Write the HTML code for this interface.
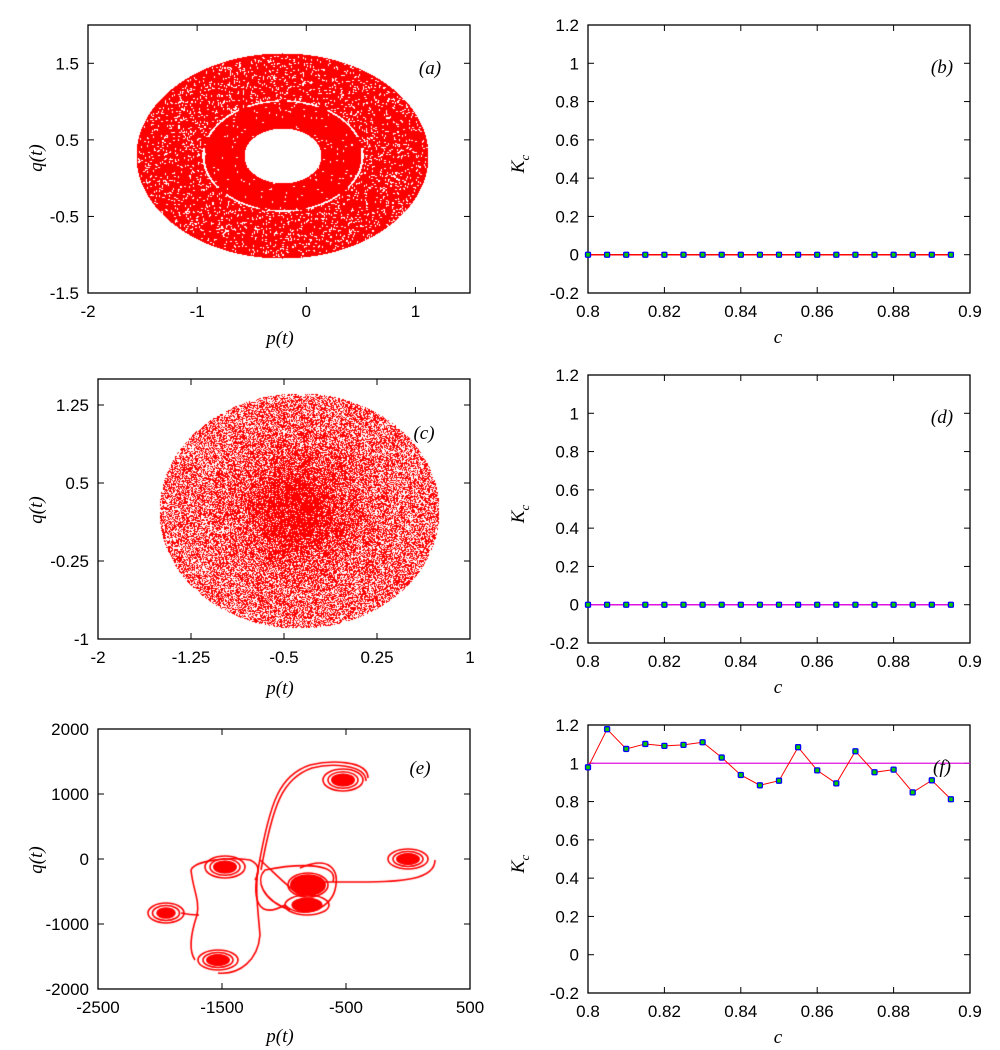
<!DOCTYPE html>
<html><head><meta charset="utf-8">
<style>
html,body{margin:0;padding:0;background:#fff;}
#wrap{position:relative;width:1000px;height:1050px;overflow:hidden;}
canvas,svg{position:absolute;left:0;top:0;}
text{font-family:"Liberation Sans",sans-serif;font-size:17px;fill:#000;}
.it{font-family:"Liberation Serif",serif;font-style:italic;font-size:19px;}
</style></head>
<body>
<div id="wrap">
<canvas id="cv" width="1000" height="1050"></canvas>
<svg id="sv" width="1000" height="1050" xmlns="http://www.w3.org/2000/svg"></svg>
</div>
<script>
// ---- data for Kc panels ----
const cValues = [0.8,0.805,0.81,0.815,0.82,0.825,0.83,0.835,0.84,0.845,0.85,0.855,0.86,0.865,0.87,0.875,0.88,0.885,0.89,0.895];
const kcB = [0,0,0,0,0,0,0,0,0,0,0,0,0,0,0,0,0,0,0,0];
const kcD = [0,0,0,0,0,0,0,0,0,0,0,0,0,0,0,0,0,0,0,0];
const kcF = [0.979,1.178,1.075,1.101,1.091,1.096,1.11,1.03,0.939,0.885,0.909,1.084,0.963,0.895,1.063,0.953,0.967,0.848,0.911,0.812];
const kcTicks = [-0.2,0,0.2,0.4,0.6,0.8,1,1.2];
const kcTickLabels = ["-0.2","0","0.2","0.4","0.6","0.8","1","1.2"];
const cTicks = [0.8,0.82,0.84,0.86,0.88,0.9];
const cTickLabels = ["0.8","0.82","0.84","0.86","0.88","0.9"];
const aXTicks=[-2,-1,0,1], aYTicks=[-1.5,-0.5,0.5,1.5];
const cXTicks=[-2,-1.25,-0.5,0.25,1], cYTicks=[-1,-0.25,0.5,1.25];
const eXTicks=[-2500,-1500,-500,500], eYTicks=[-2000,-1000,0,1000,2000];

const NS="http://www.w3.org/2000/svg";
const sv=document.getElementById('sv');
function mk(tag,attrs,parent){const e=document.createElementNS(NS,tag);for(const k in attrs)e.setAttribute(k,attrs[k]);(parent||sv).appendChild(e);return e;}
function txt(x,y,s,anchor,cls,parent){const t=mk('text',{x:x,y:y,'text-anchor':anchor||'middle'},parent);if(cls)t.setAttribute('class',cls);t.textContent=s;return t;}

function axes(name,L,T,R,B,xmin,xmax,ymin,ymax,xt,xl,yt,yl){
  const g=mk('g',{});
  
  
  const sx=v=>L+(v-xmin)/(xmax-xmin)*(R-L);
  const sy=v=>B-(v-ymin)/(ymax-ymin)*(B-T);
  const fr=mk('rect',{x:L,y:T,width:R-L,height:B-T,fill:'none',stroke:'#000','stroke-width':1.3},g);
  
  
  xt.forEach((v,i)=>{const x=sx(v);
    mk('line',{x1:x,x2:x,y1:B,y2:B-6,stroke:'#000','stroke-width':1},g);
    mk('line',{x1:x,x2:x,y1:T,y2:T+6,stroke:'#000','stroke-width':1},g);
    const t=txt(x,B+24,xl[i],'middle',null,g);
    
    });
  yt.forEach((v,i)=>{const y=sy(v);
    mk('line',{x1:L,x2:L+6,y1:y,y2:y,stroke:'#000','stroke-width':1},g);
    mk('line',{x1:R,x2:R-6,y1:y,y2:y,stroke:'#000','stroke-width':1},g);
    const t=txt(L-9,y+6,yl[i],'end',null,g);
    
    });
  return {sx,sy,g};
}
function italicLabel(x,y,s,name,rot){
  const t=txt(x,y,s,'middle','it');
  if(rot)t.setAttribute('transform','rotate(-90 '+x+' '+y+')');
  
  
  return t;
}
function kLabel(x,y,name){
  const t=mk('text',{x:x,y:y,'text-anchor':'middle',class:'it',transform:'rotate(-90 '+x+' '+y+')'});
  t.innerHTML='K<tspan font-size="13" dy="5">c</tspan>';
  
  
}

// ---- Left panels ----
const A=axes('panel-a',88,25,470,293,-2,1.5,-1.5,2,aXTicks,aXTicks.map(String),aYTicks,aYTicks.map(String));
const C=axes('panel-c',98,379,470,639,-2,1,-1,1.5,cXTicks,cXTicks.map(String),cYTicks,cYTicks.map(String));
const E=axes('panel-e',98,729,470,989,-2500,500,-2000,2000,eXTicks,eXTicks.map(String),eYTicks,eYTicks.map(String));
italicLabel(280,344,'p(t)','x-axis-title-a');italicLabel(42,158,'q(t)','y-axis-title-a',true);
italicLabel(280,694,'p(t)','x-axis-title-c');italicLabel(42,510,'q(t)','y-axis-title-c',true);
italicLabel(280,1042,'p(t)','x-axis-title-e');italicLabel(42,860,'q(t)','y-axis-title-e',true);
italicLabel(430,74,'(a)','panel-label-a');
italicLabel(424,439,'(c)','panel-label-c');
italicLabel(420,774,'(e)','panel-label-e');

// ---- Right panels ----
function kcPanel(name,T,B,vals,lineColor,letter,refLine){
  const P=axes(name,588,T,970,B,0.8,0.9,-0.2,1.2,cTicks,cTickLabels,kcTicks,kcTickLabels);
  if(refLine){const l=mk('line',{x1:588,x2:970,y1:P.sy(1),y2:P.sy(1),stroke:'#e010e0','stroke-width':1.3});
    }
  const pts=cValues.map((c,i)=>P.sx(c)+','+P.sy(vals[i])).join(' ');
  const pl=mk('polyline',{points:pts,fill:'none',stroke:lineColor,'stroke-width':refLine?1:1.5});
  
  cValues.forEach((c,i)=>{const r=mk('rect',{x:P.sx(c)-2.5,y:P.sy(vals[i])-2.5,width:5,height:5,rx:1,fill:'#00cc00',stroke:'#0000ff','stroke-width':1.3});
    });
  italicLabel(778,(B+50),'c','x-axis-title-'+letter);
  kLabel(524,(T+B)/2+5,'y-axis-title-'+letter);
  italicLabel(942,T+48,'('+letter+')','panel-label-'+letter);
}
kcPanel('panel-b',25,293,kcB,'#ff0000','b',false);
kcPanel('panel-d',375,643,kcD,'#e010e0','d',false);
kcPanel('panel-f',725,993,kcF,'#ff0000','f',true);

// ---- Phase portraits on canvas (decorative texture) ----
const cv=document.getElementById('cv');const ctx=cv.getContext('2d');
const img=ctx.createImageData(1000,1050);const d=img.data;
for(let i=0;i<d.length;i+=4){d[i]=255;d[i+1]=255;d[i+2]=255;d[i+3]=255;}
let seed=12345;function rnd(){seed=(seed*1103515245+12345)&0x7fffffff;return seed/0x7fffffff;}
function red(x,y){const i=(y*1000+x)*4;d[i]=255;d[i+1]=0;d[i+2]=0;}
function white(x,y){const i=(y*1000+x)*4;d[i]=255;d[i+1]=255;d[i+2]=255;}
// panel a
for(let y=50;y<262;y++)for(let x=132;x<432;x++){
  const r=Math.hypot((x-282)/146,(y-155.5)/102.5);
  if(r>1)continue;
  const rh=Math.hypot((x-282.5)/38.5,(y-155.5)/27.5);if(rh<1)continue;
  const rr=Math.hypot((x-282.5)/79.5,(y-155.5)/55);
  if(Math.abs(rr-1)<0.014){const ang=Math.atan2(y-155.5,x-282.5);if(Math.sin(ang*9)>-0.8)continue;}
  red(x,y);
}
for(let y=50;y<262;y++)for(let x=132;x<432;x++){
  const r=Math.hypot((x-282)/146,(y-155.5)/102.5);if(r>0.99)continue;
  const rr=Math.hypot((x-282.5)/79.5,(y-155.5)/55);
  const p=rr<1?0.012:0.06;
  if(rnd()<p){white(x,y);if(rnd()<0.5)white(x+1,y);else white(x,y+1);}
}
// panel c
for(let y=390;y<632;y++)for(let x=156;x<442;x++){
  const r=Math.hypot((x-299)/140,(y-510.5)/117.5);if(r>1)continue;
  const rc=Math.hypot(x-298,y-510)/55;
  const p=0.45-0.38*Math.exp(-rc*rc);
  if(rnd()>p)red(x,y);
}
ctx.putImageData(img,0,0);
// panel e: trajectory sketch
ctx.strokeStyle='#ff0000';ctx.fillStyle='#ff0000';ctx.lineWidth=1.6;
function spiral(cx,cy,rx,ry,n,core){
  for(let k=1;k<=n;k++){ctx.beginPath();ctx.ellipse(cx,cy,rx*k/n,ry*k/n,0,0,Math.PI*2);ctx.stroke();}
  ctx.beginPath();ctx.ellipse(cx,cy,rx*core,ry*core,0,0,Math.PI*2);ctx.fill();
}
spiral(343,780,20,11,4,0.6);
spiral(408,859,20,10,4,0.6);
spiral(225,867,20,11,4,0.6);
spiral(218,960,20,10,4,0.6);
spiral(166,913,18,10,4,0.5);
spiral(308,885,20,12,3,0.9);
spiral(307,905,22,10,3,0.7);
function path(pts){ctx.beginPath();ctx.moveTo(pts[0],pts[1]);for(let i=2;i<pts.length;i+=6)ctx.bezierCurveTo(pts[i],pts[i+1],pts[i+2],pts[i+3],pts[i+4],pts[i+5]);ctx.stroke();}
path([368,778, 368,760, 330,760, 310,765, 280,775, 270,800, 258,870]);
path([366,781, 366,764, 330,763, 312,768, 283,778, 273,803, 261,870]);
path([258,870, 252,900, 258,920, 285,905]);
path([260,860, 272,870, 285,885, 300,895]);
path([435,860, 435,880, 400,882, 360,882, 340,882, 335,882, 325,882]);
path([333,882, 340,860, 290,865, 265,870, 255,880, 262,900, 290,910]);
path([191,870, 195,860, 230,857, 250,860, 262,865, 258,875, 255,880]);
path([191,870, 193,890, 200,900, 197,915, 192,930, 188,950, 195,960]);
path([218,973, 240,975, 258,960, 260,935, 258,910, 255,890, 258,870]);
path([181,913, 190,915, 195,915, 199,915]);
path([300,868, 330,855, 340,870, 335,890, 330,910, 300,920, 285,905]);
</script>
</body></html>
